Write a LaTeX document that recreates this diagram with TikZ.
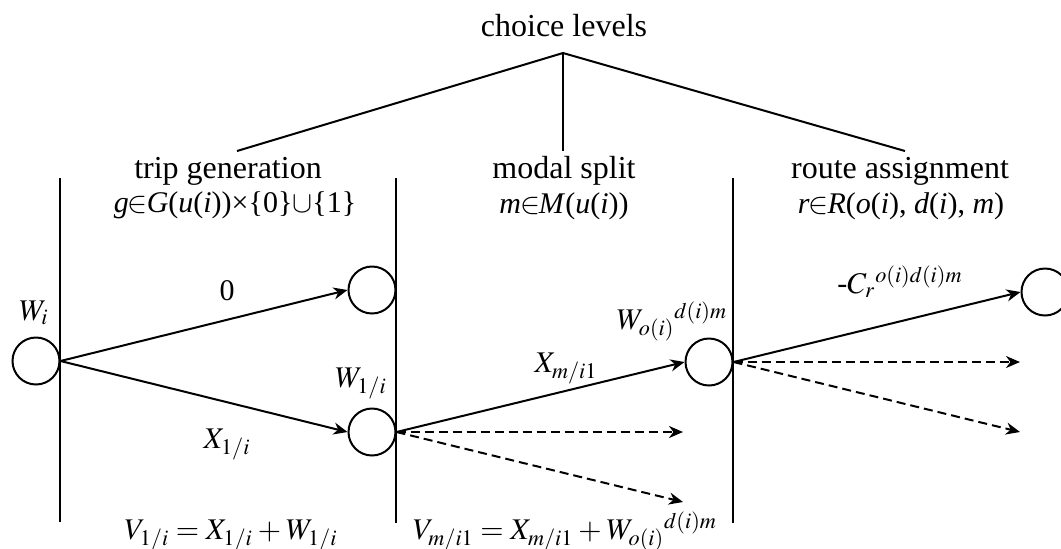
\documentclass[tikz,border=0pt]{standalone}
\usepackage{mathptmx}
\usepackage[no-math]{fontspec}
\setmainfont{Liberation Serif}
\usetikzlibrary{arrows.meta}
\newcommand{\iv}[1]{\textit{#1}}
\begin{document}
\thickmuskip=4mu
\medmuskip=3mu
\begin{tikzpicture}[x=0.5pt,y=-0.5pt, line width=1pt,
  every node/.style={font=\fontsize{15}{18}\selectfont},
  state/.style={circle,draw,line width=1pt,minimum size=23.5pt,inner sep=0pt},
  lbl/.style={anchor=base,inner sep=0pt},
  head/.style={lbl,font=\fontsize{16}{19}\selectfont},
  arr/.style={-{Stealth[length=7pt,width=6pt,inset=2.2pt]}},
  dsh/.style={arr,dash pattern=on 4.5pt off 2.5pt}]
\useasboundingbox (0,0) rectangle (1061,548);

% choice tree
\coordinate (apex) at (563,53);
\coordinate (t1) at (237,151);
\coordinate (t2) at (563,151);
\coordinate (t3) at (905,151);
\draw (apex) -- (t1);
\draw (apex) -- (t2);
\draw (apex) -- (t3);
\node[head] (cl) at (564,36) {choice levels};

% level headers
\node[head] (tg) at (228,178) {trip generation};
\node[lbl] (tgs) at (235,212) {\iv{g}\kern-0.5pt$\in$\kern-0.5pt\iv{G}(\iv{u}(\iv{i}))×\{0\}$\cup$\{1\}};
\node[head] (ms) at (564,178) {modal split};
\node[lbl] (mss) at (564,213) {\iv{m}\kern-0.5pt$\in$\kern-0.5pt\iv{M}(\iv{u}(\iv{i}))};
\node[head] (ra) at (900,178) {route assignment};
\node[lbl] (ras) at (901,213) {\iv{r}\kern-0.5pt$\in$\kern-0.5pt\iv{R}(\iv{o}(\iv{i}), \iv{d}(\iv{i}), \iv{m})};

% vertical separators
\coordinate (v1t) at (60,178);  \coordinate (v1b) at (60,522);
\coordinate (v2t) at (396,178); \coordinate (v2b) at (396,523);
\coordinate (v3t) at (733,178); \coordinate (v3b) at (733,523);
\draw (v1t) -- (v1b);
\draw (v2t) -- (v2b);
\draw (v3t) -- (v3b);

% states
\node[state] (wi) at (36,361) {};
\node[state] (a) at (372,290) {};
\node[state] (b) at (372,432) {};
\node[state] (c) at (709,362) {};
\node[state] (d) at (1045,292) {};

% free ends of dashed arrows
\coordinate (e1) at (683,432);
\coordinate (e2) at (683,502);
\coordinate (e3) at (1020,362);
\coordinate (e4) at (1020,432);

% connectors
\draw[arr] (wi.east) -- (a.west);
\draw[arr] (wi.east) -- (b.west);
\draw[arr] (b.east) -- (c.west);
\draw[dsh] (b.east) -- (e1);
\draw[dsh] (b.east) -- (e2);
\draw[arr] (c.east) -- (d.west);
\draw[dsh] (c.east) -- (e3);
\draw[dsh] (c.east) -- (e4);

% labels
\node[lbl] (lwi) at (34,320) {$W_i$};
\node[lbl] (l0) at (227,300) {0};
\node[lbl] (lx1) at (227,448) {$X_{1/i}$};
\node[lbl] (lw1) at (361,387) {$W_{1/i}$};
\node[lbl] (lxm) at (566,372) {$X_{m/i1}$};
\node[lbl] (lwo) at (672,329) {$W_{o(i)}{}^{d(i)m}$};
\node[lbl] (lc) at (900,293) {-$C_r{}^{o(i)d(i)m}$};
\node[lbl] (lv1) at (231,539) {$V_{1/i} = X_{1/i} + W_{1/i}$};
\node[lbl] (lvm) at (565,539) {$V_{m/i1} = X_{m/i1} + W_{o(i)}{}^{d(i)m}$};
\end{tikzpicture}
\end{document}
